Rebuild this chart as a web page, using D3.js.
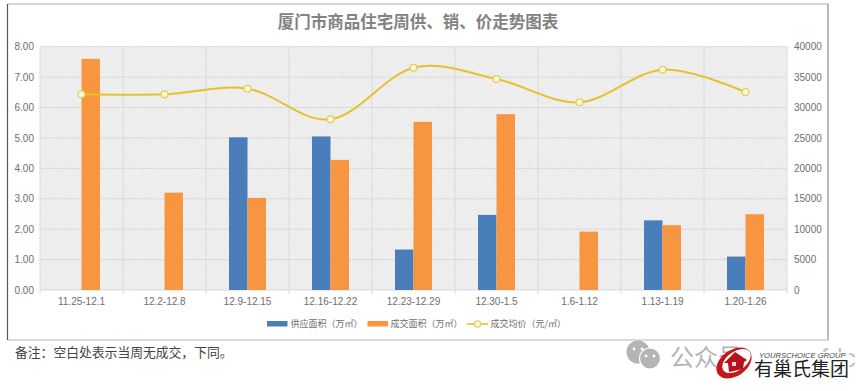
<!DOCTYPE html>
<html>
<head>
<meta charset="utf-8">
<script src="https://cdn.jsdelivr.net/npm/d3@7"></script>
<style>
    html, body { margin: 0; padding: 0; background: #fff; }
    svg { display: block; }
    text { font-family: "Liberation Sans", "Noto Sans CJK SC", sans-serif; }
    .cjk { font-family: "Noto Sans CJK SC", sans-serif; }
    .axis path { display: none; }
    .axis text { fill: #6e6e6e; font-size: 10px; }
    .grid line { stroke: #dadada; stroke-width: 1; }
    .legend text { fill: #6e6e6e; font-size: 9px; }
</style>
</head>
<body>
<script>
const categories = ['11.25-12.1', '12.2-12.8', '12.9-12.15', '12.16-12.22', '12.23-12.29', '12.30-1.5', '1.6-1.12', '1.13-1.19', '1.20-1.26']
const supplyArea = [null, null, 5.02, 5.05, 1.33, 2.47, null, 2.29, 1.10]
const dealArea = [7.60, 3.20, 3.03, 4.28, 5.53, 5.78, 1.92, 2.13, 2.49]
const dealPrice = [32170, 32170, 33100, 28060, 36550, 34700, 30860, 36220, 32550]
const areaTicks = [0, 1, 2, 3, 4, 5, 6, 7, 8]
const priceTicks = [0, 5000, 10000, 15000, 20000, 25000, 30000, 35000, 40000]
const legendNames = ['供应面积（万㎡）', '成交面积（万㎡）', '成交均价（元/㎡）']

const BLUE = '#4a7eba'
const ORANGE = '#f79540'
const YELLOW = '#e3c22c'

const width = 868
const height = 391
const leftX = 40
const rightX = 787
const topY = 46.7
const bottomY = 290
const barW = 18.5

const svg = d3.select('body').append('svg')
    .attr('width', width)
    .attr('height', height)

// hatched plot background
const pattern = svg.append('defs').append('pattern')
    .attr('id', 'hatch')
    .attr('width', 2)
    .attr('height', 2)
    .attr('patternUnits', 'userSpaceOnUse')
    .attr('patternTransform', 'rotate(45)')
pattern.append('rect')
    .attr('width', 2)
    .attr('height', 2)
    .attr('fill', '#f7f7f7')
pattern.append('rect')
    .attr('width', 2)
    .attr('height', 0.8)
    .attr('fill', '#e0e0e0')

// frame, the left edge is darker in the picture
const frame = svg.append('g')
const frameLines = [
    [7.5, 4, 828, 4, '#adadad'],
    [828, 4, 828, 340, '#8c8c8c'],
    [828, 340, 7.5, 340, '#b5b5b5'],
    [7.5, 340, 7.5, 4, '#555']
]
frame.selectAll('line')
    .data(frameLines)
    .join('line')
    .attr('x1', d => d[0])
    .attr('y1', d => d[1])
    .attr('x2', d => d[2])
    .attr('y2', d => d[3])
    .attr('stroke', d => d[4])
    .attr('stroke-width', 1.2)

svg.append('text')
    .attr('class', 'cjk')
    .attr('x', 418)
    .attr('y', 28)
    .attr('text-anchor', 'middle')
    .attr('font-size', 16.5)
    .attr('font-weight', 700)
    .attr('fill', '#828282')
    .text('厦门市商品住宅周供、销、价走势图表')

const scaleCat = d3.scaleBand()
    .domain(categories)
    .range([leftX, rightX])
const scaleArea = d3.scaleLinear()
    .domain([0, 8])
    .range([bottomY, topY])
const scalePrice = d3.scaleLinear()
    .domain([0, 40000])
    .range([bottomY, topY])

svg.append('rect')
    .attr('x', leftX)
    .attr('y', topY)
    .attr('width', rightX - leftX)
    .attr('height', bottomY - topY)
    .attr('fill', 'url(#hatch)')

// grid
const boundaries = categories.map(c => scaleCat(c)).concat(rightX)
const grid = svg.append('g').classed('grid', true)
grid.selectAll('line.h')
    .data(areaTicks)
    .join('line')
    .classed('h', true)
    .attr('x1', leftX)
    .attr('x2', rightX)
    .attr('y1', d => scaleArea(d))
    .attr('y2', d => scaleArea(d))
grid.selectAll('line.v')
    .data(boundaries)
    .join('line')
    .classed('v', true)
    .attr('x1', d => d)
    .attr('x2', d => d)
    .attr('y1', topY)
    .attr('y2', bottomY + 4)

// axes
svg.append('g')
    .classed('axis', true)
    .attr('transform', `translate(${leftX}, 0)`)
    .call(d3.axisLeft(scaleArea).tickValues(areaTicks).tickSize(0).tickPadding(6).tickFormat(d3.format('.2f')))
svg.append('g')
    .classed('axis', true)
    .attr('transform', `translate(${rightX}, 0)`)
    .call(d3.axisRight(scalePrice).tickValues(priceTicks).tickSize(0).tickPadding(7).tickFormat(d3.format('d')))
svg.append('g')
    .classed('axis', true)
    .attr('transform', `translate(0, ${bottomY})`)
    .call(d3.axisBottom(scaleCat).tickSize(0).tickPadding(8))

// bars
const centre = c => scaleCat(c) + scaleCat.bandwidth() / 2
svg.append('g')
    .selectAll('rect')
    .data(categories.map((c, i) => ({ c, v: supplyArea[i] })).filter(d => d.v !== null))
    .join('rect')
    .attr('x', d => centre(d.c) - barW)
    .attr('y', d => scaleArea(d.v))
    .attr('width', barW)
    .attr('height', d => bottomY - scaleArea(d.v))
    .attr('fill', BLUE)
svg.append('g')
    .selectAll('rect')
    .data(categories.map((c, i) => ({ c, v: dealArea[i] })))
    .join('rect')
    .attr('x', d => centre(d.c))
    .attr('y', d => scaleArea(d.v))
    .attr('width', barW)
    .attr('height', d => bottomY - scaleArea(d.v))
    .attr('fill', ORANGE)

// price line
const lineFn = d3.line()
    .x(d => centre(d.c))
    .y(d => scalePrice(d.v))
    .curve(d3.curveCardinal.tension(0))
const pricePoints = categories.map((c, i) => ({ c, v: dealPrice[i] }))
svg.append('path')
    .attr('d', lineFn(pricePoints))
    .attr('fill', 'none')
    .attr('stroke', YELLOW)
    .attr('stroke-width', 2)
svg.append('g')
    .selectAll('circle')
    .data(pricePoints)
    .join('circle')
    .attr('cx', d => centre(d.c))
    .attr('cy', d => scalePrice(d.v))
    .attr('r', 3.4)
    .attr('fill', '#fdf8dc')
    .attr('stroke', '#e6cf5a')
    .attr('stroke-width', 1.3)

// legend
const legend = svg.append('g').classed('legend', true)
const legendY = 324
legend.append('rect')
    .attr('x', 267).attr('y', legendY - 3).attr('width', 20.5).attr('height', 5.5).attr('fill', BLUE)
legend.append('rect')
    .attr('x', 367.5).attr('y', legendY - 3).attr('width', 20.5).attr('height', 5.5).attr('fill', ORANGE)
legend.append('line')
    .attr('x1', 467).attr('x2', 488).attr('y1', legendY).attr('y2', legendY)
    .attr('stroke', YELLOW).attr('stroke-width', 1.6)
legend.append('circle')
    .attr('cx', 477.5).attr('cy', legendY).attr('r', 3.2)
    .attr('fill', '#fdf8dc').attr('stroke', '#e6cf5a').attr('stroke-width', 1.2)
legend.selectAll('text')
    .data(legendNames)
    .join('text')
    .attr('class', 'cjk')
    .attr('x', (d, i) => [290.5, 390.5, 490.5][i])
    .attr('y', legendY + 3.2)
    .text(d => d)

svg.append('text')
    .attr('class', 'cjk')
    .attr('x', 15)
    .attr('y', 357)
    .attr('font-size', 12.8)
    .attr('fill', '#444')
    .text('备注：空白处表示当周无成交，下同。')

// wechat watermark
const mark = svg.append('g')
mark.append('circle').attr('cx', 638).attr('cy', 352).attr('r', 11.5).attr('fill', '#b4b4b4')
mark.append('circle').attr('cx', 650).attr('cy', 358.5).attr('r', 10.5).attr('fill', '#b4b4b4')
    .attr('stroke', '#fff').attr('stroke-width', 1.2)
mark.selectAll('circle.eye')
    .data([[634, 349], [642, 349], [646, 356], [654, 356]])
    .join('circle')
    .classed('eye', true)
    .attr('cx', d => d[0]).attr('cy', d => d[1]).attr('r', 1.4)
    .attr('fill', '#fff')
mark.append('text')
    .attr('class', 'cjk')
    .attr('x', 670)
    .attr('y', 366)
    .attr('font-size', 24)
    .attr('fill', '#b4b4b4')
    .text('公众号')
mark.append('text')
    .attr('x', 821)
    .attr('y', 367)
    .attr('font-size', 26)
    .attr('fill', '#c4c4c4')
    .text('fdc')

// logo sits on top of the watermark
const logo = svg.append('g')
logo.append('rect')
    .attr('x', 744).attr('y', 352).attr('width', 105).attr('height', 30)
    .attr('fill', '#fff')
logo.append('ellipse')
    .attr('cx', 734).attr('cy', 363).attr('rx', 19.5).attr('ry', 13)
    .attr('transform', 'rotate(-35 734 363)')
    .attr('fill', '#c4161c')
logo.append('ellipse')
    .attr('cx', 736.5).attr('cy', 361).attr('rx', 16).attr('ry', 9.5)
    .attr('transform', 'rotate(-35 736.5 361)')
    .attr('fill', '#fff')
logo.append('path')
    .attr('d', 'M724 363 L735 352 L747 360 L744 362 L743 369 L729 372 L728 363 Z')
    .attr('fill', '#b5121b')
logo.append('rect')
    .attr('x', 732).attr('y', 362).attr('width', 4).attr('height', 4)
    .attr('fill', '#f3d6d6')
logo.append('text')
    .attr('x', 759)
    .attr('y', 358)
    .attr('font-size', 7.6)
    .attr('font-style', 'italic')
    .attr('fill', '#444')
    .text('YOURSCHOICE GROUP')
logo.append('text')
    .attr('class', 'cjk')
    .attr('x', 754)
    .attr('y', 376)
    .attr('font-size', 19)
    .attr('fill', '#222')
    .text('有巢氏集团')
</script>
</body>
</html>
